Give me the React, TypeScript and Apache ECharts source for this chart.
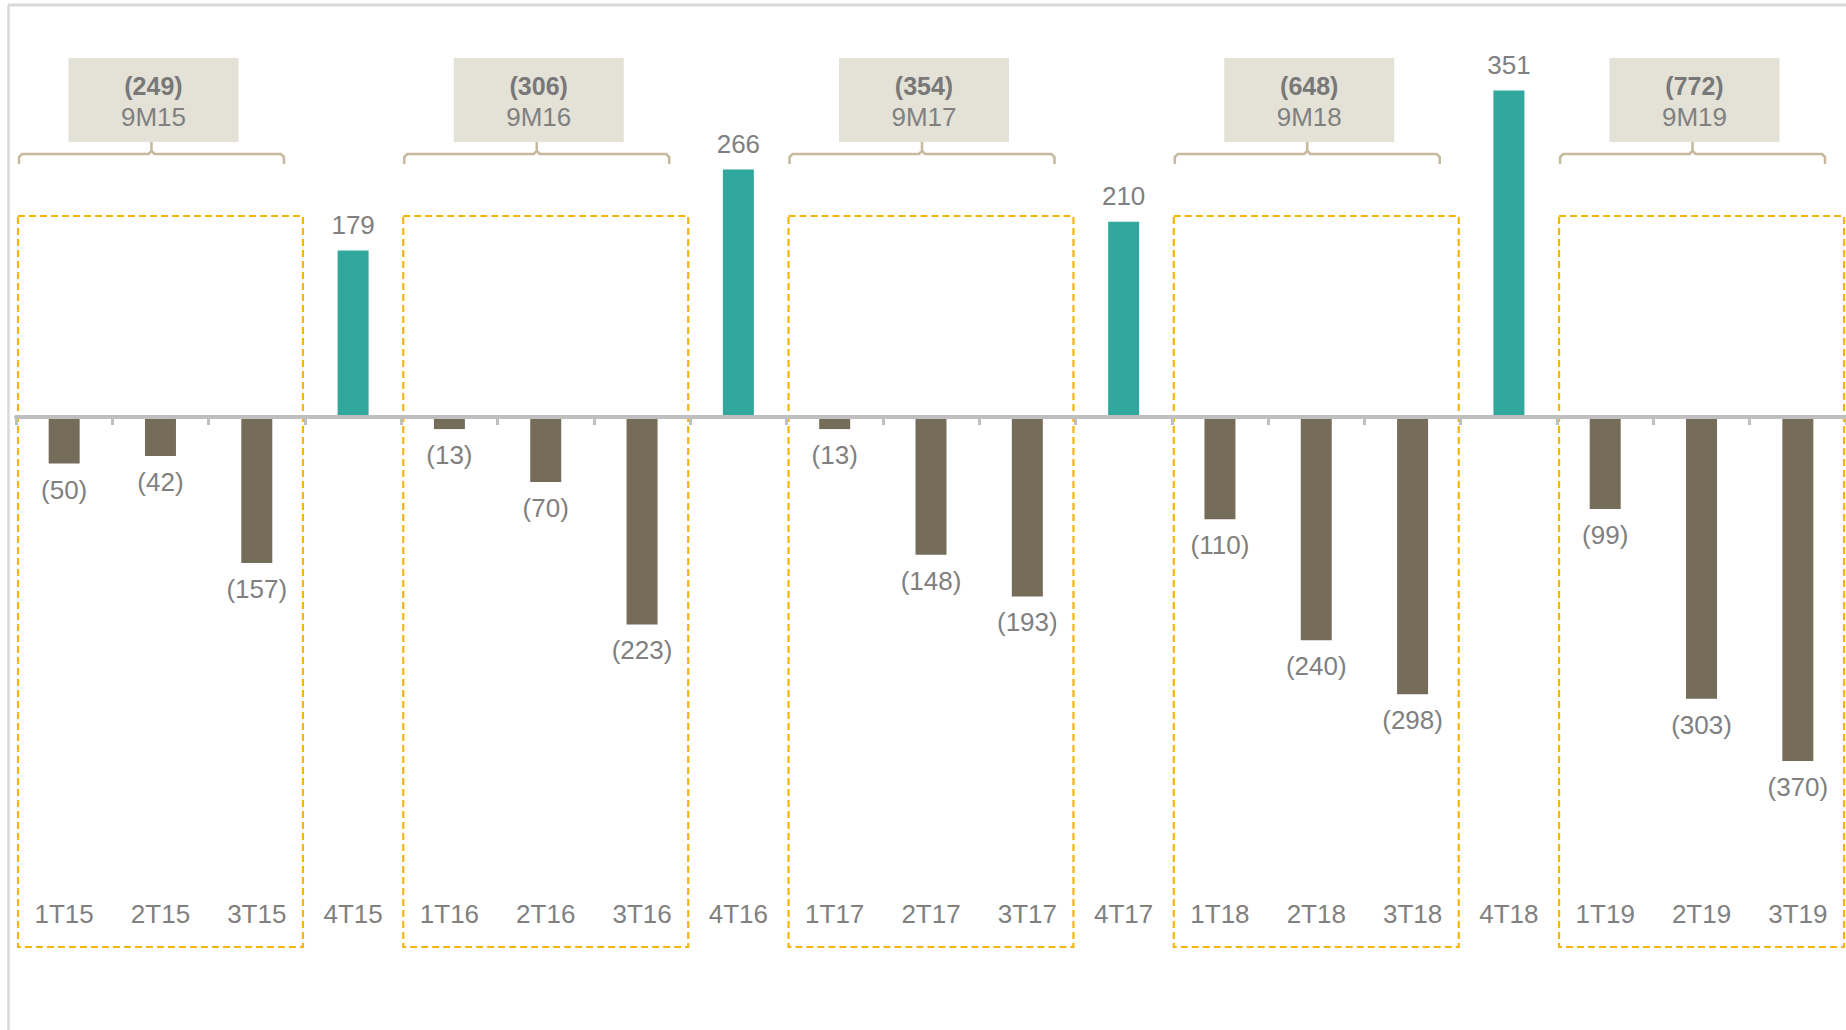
import React, { useEffect, useRef } from 'react';
import * as echarts from 'echarts';

const categories = ['1T15', '2T15', '3T15', '4T15', '1T16', '2T16', '3T16', '4T16', '1T17', '2T17', '3T17', '4T17', '1T18', '2T18', '3T18', '4T18', '1T19', '2T19', '3T19'];
const values = [-50, -42, -157, 179, -13, -70, -223, 266, -13, -148, -193, 210, -110, -240, -298, 351, -99, -303, -370];
const groupNames = ['9M15', '9M16', '9M17', '9M18', '9M19'];
const groupStarts = [0, 4, 8, 12, 16];
const groupTotals = [-249, -306, -354, -648, -772];

const FONT = '"Liberation Sans", Arial, sans-serif';
const TEAL = '#30a89e';
const BROWN = '#756d5a';
const GRAY = '#808080';
const YELLOW = '#f5b50c';
const TAN = '#c6b99e';
const BOXFILL = '#e4e2d7';

const fmt = (v: number) => (v < 0 ? `(${-v})` : `${v}`);

function renderGroup(params: any, api: any) {
  const i = params.dataIndex;
  const start = api.value(0);
  const bw = api.size([1, 0])[0];
  const p = api.coord([start, 0]);
  const left = p[0] - bw / 2;
  const right = left + 3 * bw;
  const y0 = p[1];
  const yH = y0 - 263;
  const bL = left + 3;
  const bR = right - 21;
  const bC = (bL + bR) / 2;
  const r = 3;
  return {
    type: 'group',
    children: [
      {
        type: 'rect',
        shape: { x: left + 2, y: y0 - 201, width: 3 * bw - 4, height: 731 },
        style: { fill: 'none', stroke: YELLOW, lineWidth: 2.2, lineDash: [7, 4] },
      },
      {
        type: 'polyline',
        shape: {
          points: [
            [bL, yH + 10], [bL, yH + r], [bL + r, yH], [bC - r, yH], [bC, yH - r], [bC, yH - 12],
          ],
        },
        style: { fill: 'none', stroke: TAN, lineWidth: 2.5 },
      },
      {
        type: 'polyline',
        shape: {
          points: [
            [bC, yH - r], [bC + r, yH], [bR - r, yH], [bR, yH + r], [bR, yH + 10],
          ],
        },
        style: { fill: 'none', stroke: TAN, lineWidth: 2.5 },
      },
      {
        type: 'rect',
        shape: { x: bC + 2 - 85, y: y0 - 359, width: 170, height: 84 },
        style: { fill: BOXFILL },
      },
      {
        type: 'text',
        style: {
          text: fmt(groupTotals[i]), x: bC + 2, y: y0 - 331, align: 'center', verticalAlign: 'middle',
          fill: '#787878', fontSize: 25, fontWeight: 'bold', fontFamily: FONT,
        },
      },
      {
        type: 'text',
        style: {
          text: groupNames[i], x: bC + 2, y: y0 - 300, align: 'center', verticalAlign: 'middle',
          fill: GRAY, fontSize: 26, fontFamily: FONT,
        },
      },
    ],
  };
}

export default function App() {
  const ref = useRef<HTMLDivElement>(null);
  useEffect(() => {
    if (!ref.current) return;
    const chart = echarts.init(ref.current, undefined, { renderer: 'svg' });
    chart.setOption({
      animation: false,
      backgroundColor: '#ffffff',
      grid: { left: 16, width: 1830, top: 45, height: 855.6, containLabel: false, outerBoundsMode: 'none' },
      xAxis: [
        {
          type: 'category',
          data: categories,
          z: 3,
          axisLine: { onZero: true, lineStyle: { color: '#bfbfbf', width: 4 } },
          axisTick: { show: true, length: 8, lineStyle: { color: '#bfbfbf', width: 3 } },
          axisLabel: { show: false },
          splitLine: { show: false },
        },
        {
          type: 'category',
          data: categories,
          position: 'bottom',
          axisLine: { show: false, onZero: false },
          axisTick: { show: false },
          axisLabel: { margin: 0, color: GRAY, fontSize: 26, fontFamily: FONT },
          splitLine: { show: false },
        },
      ],
      yAxis: { type: 'value', min: -520, max: 400, show: false },
      series: [
        {
          type: 'custom',
          renderItem: renderGroup,
          data: groupStarts.map((s) => [s, 0]),
          clip: false,
          silent: true,
          z: 1,
        },
        {
          type: 'bar',
          barWidth: 31,
          z: 2,
          data: values.map((v) => ({
            value: v,
            itemStyle: { color: v < 0 ? BROWN : TEAL },
            label: { position: v < 0 ? 'bottom' : 'top' },
          })),
          label: {
            show: true,
            distance: 13,
            color: GRAY,
            fontSize: 26,
            fontFamily: FONT,
            formatter: (p: any) => fmt(p.value),
          },
        },
      ],
      graphic: [
        { type: 'line', x: 0, y: 0, shape: { x1: 8, y1: 5, x2: 1846, y2: 5 }, style: { stroke: '#d9d9d9', lineWidth: 3 } },
        { type: 'line', x: 0, y: 0, shape: { x1: 8.5, y1: 5, x2: 8.5, y2: 1030 }, style: { stroke: '#d9d9d9', lineWidth: 2.5 } },
      ],
    });
    return () => chart.dispose();
  }, []);
  return <div ref={ref} style={{ position: 'fixed', left: 0, top: 0, width: 1846, height: 1030 }} />;
}
